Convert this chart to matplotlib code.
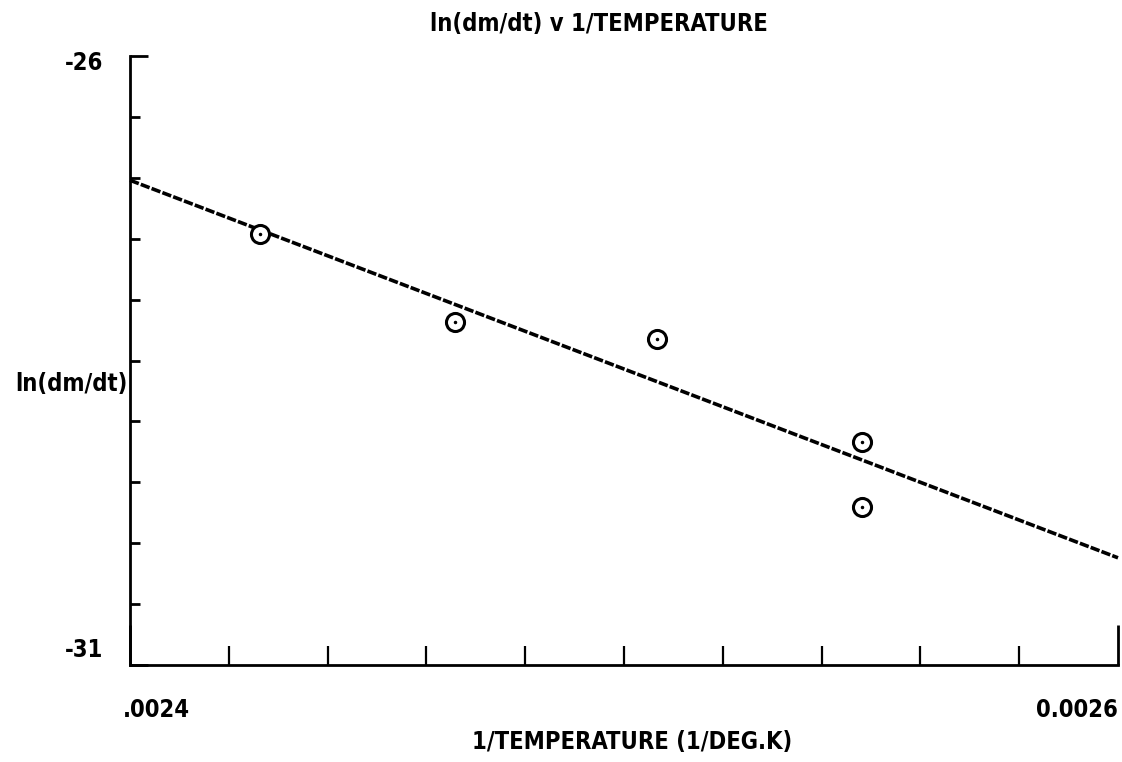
import matplotlib
matplotlib.use("Agg")
import matplotlib.pyplot as plt
import matplotlib.font_manager as fm
import matplotlib.transforms as mtransforms
import numpy as np

# ---- data ----
inv_temp = [0.0024263, 0.0024658, 0.0025067, 0.0025482, 0.0025482]
ln_rate = [-27.46, -28.18, -28.32, -29.17, -29.70]
fit_x = [0.0024, 0.0026]
fit_y = [-27.02, -30.12]
x_ticks = [0.0024 + 0.00002 * k for k in range(11)]
y_ticks = [-31 + 0.5 * k for k in range(11)]
x_ticklabels = [".0024", "0.0026"]
y_ticklabels = ["-31", "-26"]
title = "ln(dm/dt) v 1/TEMPERATURE"
xlabel = "1/TEMPERATURE (1/DEG.K)"
ylabel = "ln(dm/dt)"

# ---- font selection ----
names = {f.name for f in fm.fontManager.ttflist}
font_kw = dict(family="DejaVu Sans Mono", weight="bold")
if "Liberation Sans Narrow" in names:
    font_kw = dict(family="Liberation Sans Narrow", weight="bold")
elif any(f.name == "DejaVu Sans" and str(f.stretch) in ("condensed", "semi-condensed", "500")
         for f in fm.fontManager.ttflist if "Condensed" in f.fname):
    font_kw = dict(family="DejaVu Sans", weight="bold", stretch="condensed")

FS = 17

fig = plt.figure(figsize=(11.22, 7.62), dpi=100)
ax = fig.add_axes([130 / 1122, 1 - 665 / 762, 988 / 1122, 609 / 762])

ax.set_xlim(fit_x[0], fit_x[1])
ax.set_ylim(-31, -26)

for s in ("top", "right"):
    ax.spines[s].set_visible(False)
for s in ("left", "bottom"):
    ax.spines[s].set_linewidth(2.0)

# fit line
ax.plot(fit_x, fit_y, color="black", lw=2.6, linestyle=(0, (2.6, 0.6)),
        solid_capstyle="butt", clip_on=False)
# data points
ax.plot(inv_temp, ln_rate, linestyle="none", marker="o", markersize=13,
        markerfacecolor="white", markeredgecolor="black", markeredgewidth=2.2)
ax.plot(inv_temp, ln_rate, linestyle="none", marker=".", markersize=3, color="black")

# ticks
ax.set_xticks([x_ticks[0], x_ticks[-1]])
ax.set_xticks(x_ticks[1:-1], minor=True)
ax.set_yticks([y_ticks[0], y_ticks[-1]])
ax.set_yticks(y_ticks[1:-1], minor=True)
ax.set_xticklabels(x_ticklabels)
ax.set_yticklabels(y_ticklabels)
ax.tick_params(axis="x", which="major", direction="in", length=29, width=2.0, pad=24)
ax.tick_params(axis="x", which="minor", direction="in", length=14, width=1.6)
ax.tick_params(axis="y", which="major", direction="in", length=13, width=2.0, pad=19)
ax.tick_params(axis="y", which="minor", direction="in", length=7, width=2.0)

xl = ax.get_xticklabels()
xl[0].set_ha("left")
xl[1].set_ha("right")
for lab in ax.get_xticklabels() + ax.get_yticklabels():
    lab.set_fontproperties(fm.FontProperties(size=FS, **font_kw))
xl[0].set_transform(xl[0].get_transform() + mtransforms.ScaledTranslation(-5 / 72, 0, fig.dpi_scale_trans))
yl = ax.get_yticklabels()
for lab in yl:
    lab.set_va("center")
# nudge y tick labels slightly as in the reference
yl[0].set_transform(yl[0].get_transform() + mtransforms.ScaledTranslation(0, 11 / 72, fig.dpi_scale_trans))
yl[1].set_transform(yl[1].get_transform() + mtransforms.ScaledTranslation(0, -5 / 72, fig.dpi_scale_trans))

ax.set_xlabel(xlabel, fontsize=FS, va="center", **font_kw)
ax.xaxis.set_label_coords((632 - 130) / 988, (665 - 742) / 609)
ax.set_ylabel(ylabel, fontsize=FS, rotation=0, ha="center", va="center", **font_kw)
ax.yaxis.set_label_coords((71 - 130) / 988, (665 - 384) / 609)

fig.text(599 / 1122, 1 - 24 / 762, title, ha="center", va="center", fontsize=FS, **font_kw)

fig.savefig("out.png", dpi=100, facecolor="white")
